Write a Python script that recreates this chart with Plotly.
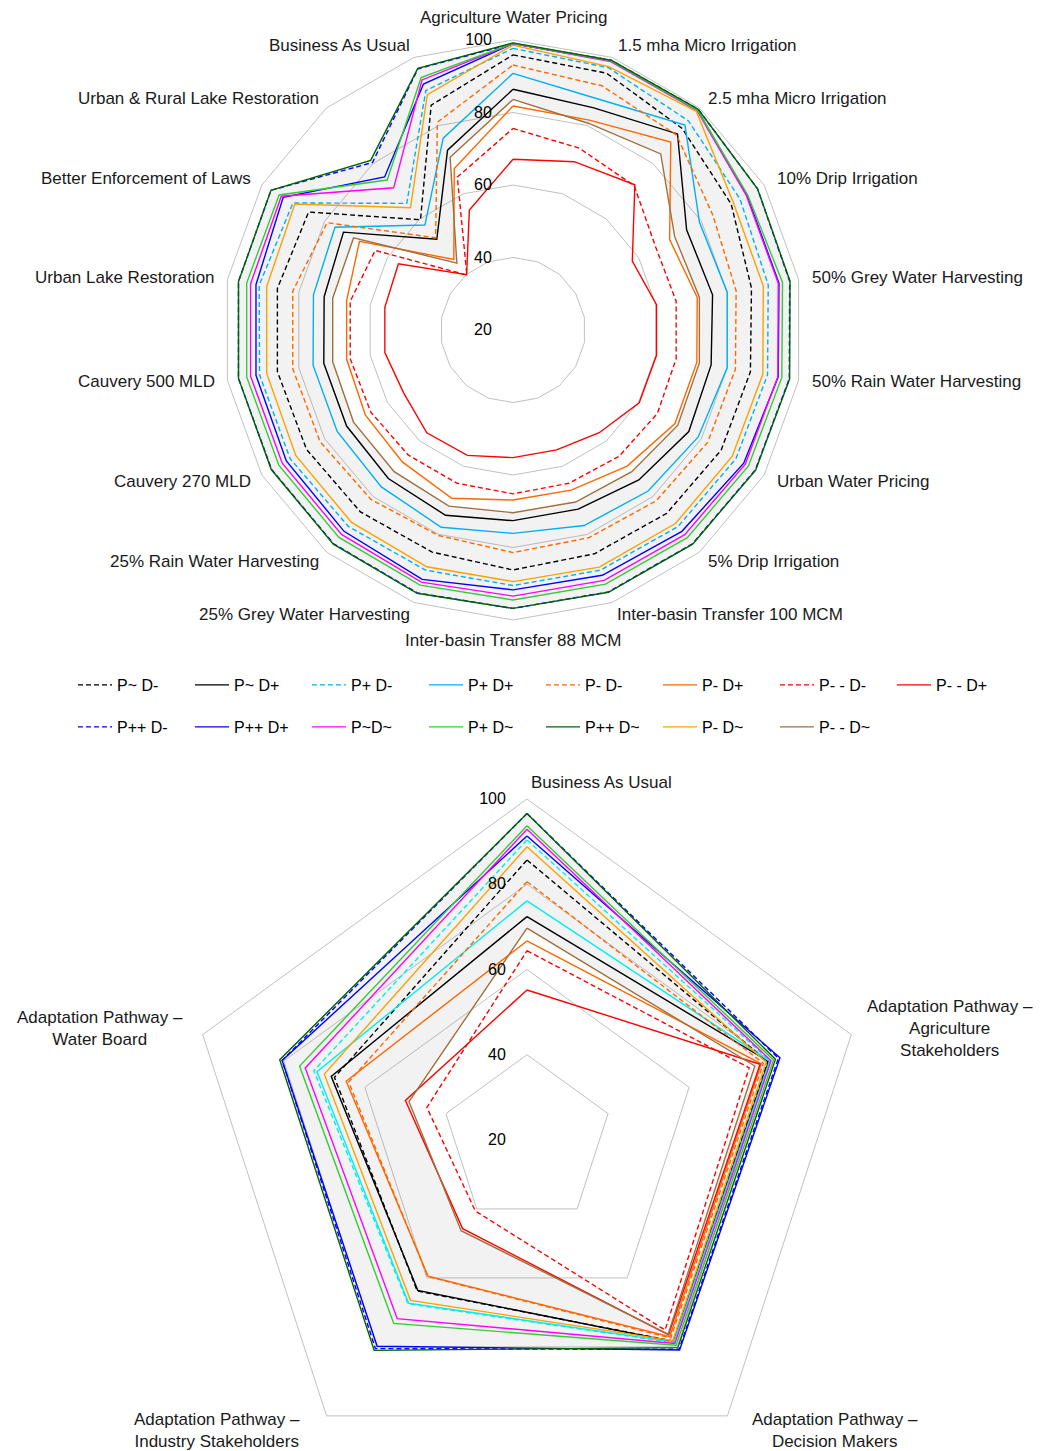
import plotly.graph_objects as go

# ---------------- categories ----------------
top_categories = [
    "Agriculture Water Pricing", "1.5 mha Micro Irrigation", "2.5 mha Micro Irrigation",
    "10% Drip Irrigation", "50% Grey Water Harvesting", "50% Rain Water Harvesting",
    "Urban Water Pricing", "5% Drip Irrigation", "Inter-basin Transfer 100 MCM",
    "Inter-basin Transfer 88 MCM", "25% Grey Water Harvesting", "25% Rain Water Harvesting",
    "Cauvery 270 MLD", "Cauvery 500 MLD", "Urban Lake Restoration",
    "Better Enforcement of Laws", "Urban & Rural Lake Restoration", "Business As Usual",
]
bottom_categories = [
    "Business As Usual",
    "Adaptation Pathway –<br>Agriculture<br>Stakeholders",
    "Adaptation Pathway –<br>Decision Makers",
    "Adaptation Pathway –<br>Industry Stakeholders",
    "Adaptation Pathway –<br>Water Board",
]
radial_ticks = [20, 40, 60, 80, 100]

series_names = ["P~ D-", "P~ D+", "P+ D-", "P+ D+", "P- D-", "P- D+", "P- - D-", "P- - D+",
                "P++ D-", "P++ D+", "P~D~", "P+ D~", "P++ D~", "P- D~", "P- - D~"]

# ---------------- top chart values ----------------
top_p0_dm = [95.9, 95.4, 92.6, 89.5, 86.8, 86.5, 86.3, 86.0, 85.7, 86.2, 85.2, 85.5, 85.8, 86.0, 86.0, 85.1, 59.7, 86.0]
top_p0_dp = [86.4, 85.2, 90.6, 75.3, 75.9, 75.5, 76.0, 74.0, 72.6, 72.6, 74.4, 73.5, 73.0, 73.0, 72.9, 74.0, 52.7, 72.8]
top_pp_dm = [97.7, 97.0, 95.3, 92.3, 91.5, 91.3, 91.0, 90.8, 90.5, 90.5, 90.5, 90.7, 91.0, 91.0, 91.1, 90.1, 65.6, 90.3]
top_pp_dp = [90.8, 87.9, 93.8, 79.4, 80.0, 80.0, 79.0, 78.0, 77.4, 76.1, 77.9, 76.5, 76.0, 76.0, 75.9, 76.7, 57.8, 76.3]
top_pm_dm = [93.1, 91.7, 90.2, 83.6, 82.5, 82.3, 82.0, 81.5, 81.0, 81.4, 80.3, 81.0, 81.5, 81.7, 81.7, 79.2, 53.2, 81.0]
top_pm_dp = [81.8, 81.6, 87.7, 69.9, 71.6, 71.5, 71.6, 69.0, 67.0, 66.9, 69.4, 67.5, 67.0, 66.6, 66.6, 68.9, 45.4, 67.4]
top_pmm_dm = [75.6, 73.4, 72.0, 65.5, 65.7, 65.7, 66.0, 65.5, 65.0, 65.2, 65.0, 65.0, 65.3, 65.6, 65.6, 63.9, 39.8, 64.9]
top_pmm_dp = [67.1, 69.4, 72.3, 58.0, 60.2, 60.2, 60.2, 57.0, 55.2, 55.2, 56.8, 57.0, 54.8, 55.9, 55.9, 56.5, 39.9, 55.2]
top_ppp_dm = [99.0, 99.2, 99.5, 97.9, 97.5, 97.4, 97.2, 97.0, 96.9, 96.8, 97.2, 97.0, 96.9, 96.9, 96.9, 97.1, 80.3, 96.7]
top_ppp_dp = [99.0, 99.0, 99.2, 94.5, 94.5, 94.3, 93.5, 92.5, 92.0, 91.7, 93.2, 92.5, 92.2, 92.0, 92.0, 93.2, 75.1, 92.2]
top_p0_d0 = [99.0, 98.8, 99.0, 94.3, 94.3, 94.2, 94.0, 93.7, 93.5, 93.4, 94.0, 93.6, 93.5, 93.5, 93.5, 93.8, 71.2, 93.4]
top_pp_d0 = [99.1, 99.0, 99.2, 94.7, 95.5, 95.3, 95.0, 94.8, 94.6, 94.5, 94.9, 94.7, 94.6, 94.6, 94.6, 94.5, 74.0, 94.1]
top_ppp_d0 = [99.2, 99.2, 99.5, 97.9, 97.6, 97.5, 97.3, 97.1, 97.0, 96.8, 97.3, 97.1, 97.0, 96.9, 96.9, 97.1, 81.1, 96.8]
top_pm_d0 = [98.6, 97.3, 98.7, 90.2, 90.1, 90.0, 89.8, 89.7, 89.6, 89.4, 89.5, 89.3, 89.2, 89.0, 89.0, 89.5, 64.0, 89.1]
top_pmm_d0 = [83.6, 80.7, 83.4, 71.5, 72.2, 72.2, 72.5, 71.0, 70.5, 70.4, 71.7, 71.0, 70.8, 70.5, 70.5, 70.8, 44.1, 70.7]

# ---------------- bottom chart values ----------------
bot_p0_dm = [85.7, 79.4, 78.3, 63.8, 67.5]
bot_p0_dp = [72.4, 79.6, 78.5, 63.6, 68.3]
bot_pp_dm = [90.4, 80.0, 78.8, 67.5, 72.6]
bot_pp_dp = [76.1, 79.8, 78.6, 67.3, 71.8]
bot_pm_dm = [80.6, 78.3, 77.4, 59.6, 64.0]
bot_pm_dp = [66.7, 77.8, 77.0, 59.5, 64.6]
bot_pmm_dm = [64.4, 74.8, 75.1, 40.6, 44.7]
bot_pmm_dp = [55.2, 77.5, 76.5, 45.7, 50.0]
bot_ppp_dm = [96.6, 82.0, 80.7, 80.5, 80.4]
bot_ppp_dp = [91.3, 82.4, 80.9, 79.8, 80.4]
bot_p0_d0 = [92.9, 80.2, 79.0, 71.8, 74.7]
bot_pp_d0 = [93.7, 80.8, 79.5, 73.2, 76.1]
bot_ppp_d0 = [96.6, 81.3, 80.2, 81.0, 81.0]
bot_pm_d0 = [88.8, 79.0, 78.2, 66.5, 70.0]
bot_pmm_d0 = [69.7, 76.2, 76.3, 46.3, 49.1]

top_series = [top_p0_dm, top_p0_dp, top_pp_dm, top_pp_dp, top_pm_dm, top_pm_dp, top_pmm_dm,
              top_pmm_dp, top_ppp_dm, top_ppp_dp, top_p0_d0, top_pp_d0, top_ppp_d0, top_pm_d0, top_pmm_d0]
bot_series = [bot_p0_dm, bot_p0_dp, bot_pp_dm, bot_pp_dp, bot_pm_dm, bot_pm_dp, bot_pmm_dm,
              bot_pmm_dp, bot_ppp_dm, bot_ppp_dp, bot_p0_d0, bot_pp_d0, bot_ppp_d0, bot_pm_d0, bot_pmm_d0]

# ---------------- styles ----------------
DASH = "5px,3px"
top_colors = ["#000000", "#000000", "#00B0F0", "#00B0F0", "#FF6600", "#FF6600", "#FF0000", "#FF0000",
              "#0000FF", "#0000FF", "#FF00FF", "#33CC33", "#006400", "#FFA000", "#A0703C"]
bot_colors = ["#000000", "#000000", "#00EEEE", "#00EEEE", "#FF6600", "#FF6600", "#FF0000", "#FF0000",
              "#0000FF", "#0000FF", "#FF00FF", "#33CC33", "#006400", "#FFA000", "#A0703C"]
dashes = [DASH, "solid", DASH, "solid", DASH, "solid", DASH, "solid",
          DASH, "solid", "solid", "solid", "solid", "solid", "solid"]
legend_ids = ["legend"] * 8 + ["legend2"] * 7

FONT = "Liberation Sans, Arial, sans-serif"
GRID = "#C0C0C0"
W, H = 1055, 1500
OFF = 8  # page body margin offset


def px(x):
    return (x - OFF) / W


def py(y):
    return 1 - (y - OFF) / H


fig = go.Figure()


def band(values_out, values_in, cats, subplot):
    r = list(values_out) + [values_out[0]] + [values_in[0]] + list(values_in[:0:-1]) + [values_in[0]]
    th = list(cats) + [cats[0]] + [cats[0]] + list(cats[:0:-1]) + [cats[0]]
    return go.Scatterpolar(r=r, theta=th, mode="lines", fill="toself",
                           fillcolor="rgba(128,128,128,0.10)", line=dict(width=0),
                           hoverinfo="skip", showlegend=False, subplot=subplot)


fig.add_trace(band(top_ppp_d0, top_pmm_d0, top_categories, "polar"))
fig.add_trace(band(bot_ppp_d0, bot_pmm_d0, bottom_categories, "polar2"))

for i, name in enumerate(series_names):
    v = top_series[i]
    fig.add_trace(go.Scatterpolar(
        r=v + [v[0]], theta=top_categories + [top_categories[0]], mode="lines",
        line=dict(color=top_colors[i], width=1.4, dash=dashes[i]),
        name=name, legend=legend_ids[i], subplot="polar"))

for i, name in enumerate(series_names):
    v = bot_series[i]
    fig.add_trace(go.Scatterpolar(
        r=v + [v[0]], theta=bottom_categories + [bottom_categories[0]], mode="lines",
        line=dict(color=bot_colors[i], width=1.4, dash=dashes[i]),
        name=name, showlegend=False, subplot="polar2"))


def polar_layout(cats, cx, cy, rad):
    return dict(
        domain=dict(x=[px(cx - rad), px(cx + rad)], y=[py(cy + rad), py(cy - rad)]),
        gridshape="linear",
        bgcolor="white",
        radialaxis=dict(range=[20, 100], tickvals=radial_ticks, angle=90, side="counterclockwise",
                        tickangle=90, showline=False, ticks="outside", ticklen=15,
                        tickcolor="rgba(0,0,0,0)", gridcolor=GRID, gridwidth=1,
                        tickfont=dict(family=FONT, size=16, color="#000000")),
        angularaxis=dict(type="category", categoryorder="array", categoryarray=cats,
                         direction="clockwise", rotation=90, showgrid=False, showline=True,
                         linecolor=GRID, linewidth=1, ticks="", showticklabels=False),
    )


fig.update_layout(
    width=W, height=H,
    margin=dict(l=0, r=0, t=0, b=0),
    paper_bgcolor="white",
    font=dict(family=FONT),
    polar=polar_layout(top_categories, 513, 330, 290),
    polar2=polar_layout(bottom_categories, 527, 1140, 341),
)

legend_common = dict(orientation="h", xanchor="left", yanchor="middle", entrywidth=68,
                     entrywidthmode="pixels", font=dict(family=FONT, size=16, color="#000000"),
                     bgcolor="rgba(0,0,0,0)", itemwidth=34)
fig.update_layout(
    legend=dict(x=px(73), y=py(685), **legend_common),
    legend2=dict(x=px(73), y=py(727), **legend_common),
)

# category labels (placed like the original's category captions)
top_label_pos = [
    (513, 17, "center"), (616, 46, "left"), (706, 98, "left"), (775, 179, "left"),
    (810, 277, "left"), (810, 382, "left"), (775, 481, "left"), (706, 561, "left"),
    (615, 614, "left"), (513, 641, "center"), (412, 614, "right"), (321, 561, "right"),
    (253, 481, "right"), (217, 382, "right"), (217, 277, "right"), (253, 179, "right"),
    (321, 98, "right"), (412, 46, "right"),
]
for text, (lx, ly, anchor) in zip(top_categories, top_label_pos):
    fig.add_annotation(text=text, x=px(lx), y=py(ly), xref="paper", yref="paper",
                       xanchor=anchor, yanchor="middle", showarrow=False,
                       font=dict(family=FONT, size=17, color="#1a1a1a"))

bottom_label_pos = [(601, 782), (950, 1028), (835, 1430), (217, 1430), (100, 1028)]
for text, (lx, ly) in zip(bottom_categories, bottom_label_pos):
    fig.add_annotation(text=text, x=px(lx), y=py(ly), xref="paper", yref="paper",
                       xanchor="center", yanchor="middle", align="center", showarrow=False,
                       font=dict(family=FONT, size=17, color="#1a1a1a"))

fig.write_html("out.html")
